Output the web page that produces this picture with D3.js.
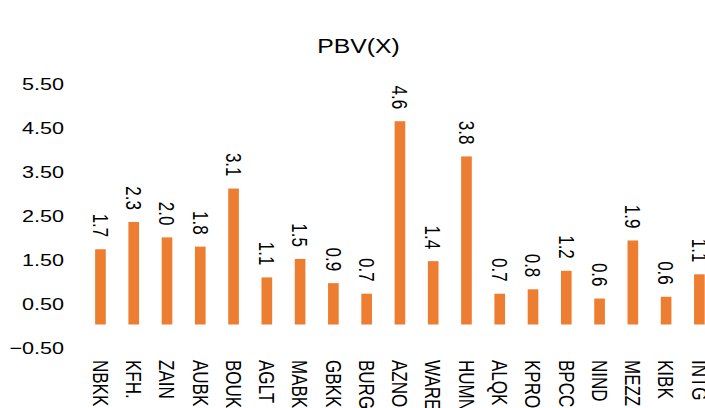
<!DOCTYPE html>
<html>
<head>
<meta charset="UTF-8">
<script src="https://cdn.jsdelivr.net/npm/d3@7"></script>
<style>
  html, body { margin: 0; padding: 0; background: #fff; }
  svg { display: block; }
  text { font-family: "Liberation Sans", Arial, sans-serif; fill: #000; }
</style>
</head>
<body>
<div id="chart"></div>
<script>
const categories = ["NBKK", "KFH.", "ZAIN", "AUBK", "BOUK", "AGLT", "MABK", "GBKK", "BURG", "AZNO",
                    "WARE", "HUMN", "ALQK", "KPRO", "BPCC", "NIND", "MEZZ", "KIBK", "INTG"];
const pbv = [1.71, 2.33, 1.98, 1.77, 3.09, 1.07, 1.49, 0.94, 0.70, 4.62,
             1.44, 3.82, 0.70, 0.80, 1.22, 0.59, 1.91, 0.63, 1.14];
const yTicks = [-0.5, 0.5, 1.5, 2.5, 3.5, 4.5, 5.5];
const title = "PBV(X)";

// the reference is stretched sideways, so draw in a narrower box and stretch it
const stretch = 1.27;
const W = 705 / stretch, H = 408;

const svg = d3.select("#chart").append("svg")
    .attr("width", 705)
    .attr("height", 408)
    .attr("viewBox", [0, 0, W, H])
    .attr("preserveAspectRatio", "none");

const step = 26.2;
const x0 = 79.1 - step / 2;
const x = d3.scaleBand()
    .domain(categories)
    .range([x0, x0 + categories.length * step])
    .paddingInner(0.68)
    .paddingOuter(0.34);

const y = d3.scaleLinear().domain([-0.5, 5.5]).range([346.5, 82.5]);

// title
svg.append("text")
    .attr("x", 282.3)
    .attr("y", 53.5)
    .attr("text-anchor", "middle")
    .attr("font-size", 19.5)
    .text(title);

// y labels
svg.append("g")
    .selectAll("text")
    .data(yTicks)
    .join("text")
    .attr("x", 50.5)
    .attr("y", d => y(d) + 1)
    .attr("text-anchor", "end")
    .attr("dominant-baseline", "central")
    .attr("font-size", 17)
    .text(d => d3.format(".2f")(d));

// bars
svg.append("g")
    .selectAll("rect")
    .data(pbv)
    .join("rect")
    .attr("x", (d, i) => x(categories[i]))
    .attr("width", x.bandwidth())
    .attr("y", d => y(d))
    .attr("height", d => y(0) - y(d))
    .attr("fill", "#ED7D31");

// value labels, rotated
svg.append("g")
    .selectAll("text")
    .data(pbv)
    .join("text")
    .attr("transform", (d, i) => `translate(${x(categories[i]) + x.bandwidth() / 2},${y(d) - 12}) rotate(90)`)
    .attr("text-anchor", "end")
    .attr("dominant-baseline", "central")
    .attr("font-size", 17)
    .text(d => d3.format(".1f")(d));

// category labels, rotated
svg.append("g")
    .selectAll("text")
    .data(categories)
    .join("text")
    .attr("transform", d => `translate(${x(d) + x.bandwidth() / 2},360) rotate(90)`)
    .attr("text-anchor", "start")
    .attr("dominant-baseline", "central")
    .attr("font-size", 17)
    .text(d => d);
</script>
</body>
</html>
